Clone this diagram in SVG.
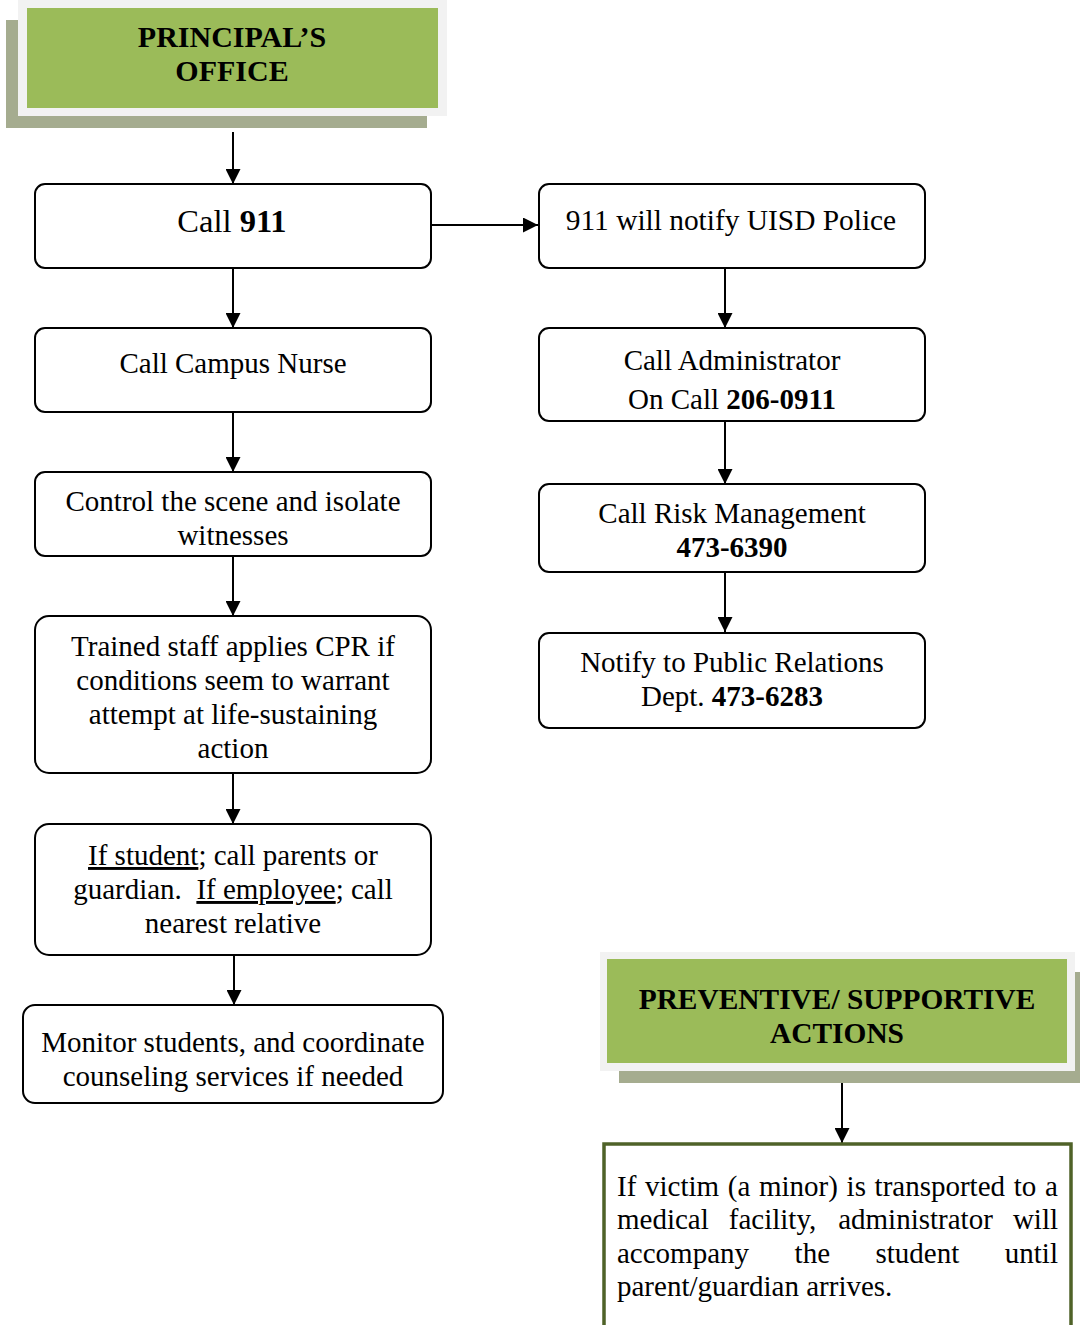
<svg xmlns="http://www.w3.org/2000/svg" width="1080" height="1325" viewBox="0 0 1080 1325">
  <defs>
    <marker id="arrow" markerUnits="userSpaceOnUse" markerWidth="15" markerHeight="15" refX="15" refY="7.5" orient="auto">
      <path d="M0,0 L15,7.5 L0,15 z" fill="#000"/>
    </marker>
    <style>
      .box { fill: #fff; stroke: #000; stroke-width: 2; }
      .shadow { fill: #a5ac8f; }
      .frame { fill: #f2f2f2; }
      .green { fill: #9bbb59; }
      .t { font-family: "Liberation Serif", "Times New Roman", serif; font-size: 29px; fill: #000; }
      .c { text-anchor: middle; }
      .b { font-weight: bold; }
      .u { text-decoration: underline; }
      .conn { stroke: #000; stroke-width: 2; fill: none; marker-end: url(#arrow); }
    </style>
  </defs>

  <rect width="1080" height="1325" fill="#fff"/>

  <!-- Connectors -->
  <g id="connectors">
    <line class="conn" x1="233" y1="132" x2="233" y2="184"/>
    <line class="conn" x1="233" y1="268" x2="233" y2="328"/>
    <line class="conn" x1="233" y1="412" x2="233" y2="472"/>
    <line class="conn" x1="233" y1="556" x2="233" y2="616"/>
    <line class="conn" x1="233" y1="773" x2="233" y2="824"/>
    <line class="conn" x1="234" y1="955" x2="234" y2="1005"/>
    <line class="conn" x1="431" y1="225" x2="538" y2="225"/>
    <line class="conn" x1="725" y1="268" x2="725" y2="328"/>
    <line class="conn" x1="725" y1="421" x2="725" y2="484"/>
    <line class="conn" x1="725" y1="572" x2="725" y2="632"/>
    <line class="conn" x1="842" y1="1083" x2="842" y2="1143"/>
  </g>

  <!-- Header: principal's office -->
  <g id="principals-office">
    <rect class="shadow" x="6" y="20" width="421" height="108"/>
    <rect class="frame" x="18" y="0" width="429" height="116"/>
    <rect class="green" x="27" y="8" width="411" height="100"/>
    <text class="t c b" x="232" y="47" style="font-size:30px">PRINCIPAL’S</text>
    <text class="t c b" x="232" y="81" style="font-size:30px">OFFICE</text>
  </g>

  <!-- Left column -->
  <g id="call-911">
    <rect class="box" x="35" y="184" width="396" height="84" rx="10"/>
    <text class="t c" x="232" y="232" style="font-size:32.5px">Call <tspan class="b">911</tspan></text>
  </g>

  <g id="call-campus-nurse">
    <rect class="box" x="35" y="328" width="396" height="84" rx="10"/>
    <text class="t c" x="233" y="373">Call Campus Nurse</text>
  </g>

  <g id="control-scene">
    <rect class="box" x="35" y="472" width="396" height="84" rx="10"/>
    <text class="t c" x="233" y="511">Control the scene and isolate</text>
    <text class="t c" x="233" y="545">witnesses</text>
  </g>

  <g id="apply-cpr">
    <rect class="box" x="35" y="616" width="396" height="157" rx="14"/>
    <text class="t c" x="233" y="656">Trained staff applies CPR if</text>
    <text class="t c" x="233" y="690">conditions seem to warrant</text>
    <text class="t c" x="233" y="724">attempt at life-sustaining</text>
    <text class="t c" x="233" y="758">action</text>
  </g>

  <g id="call-family">
    <rect class="box" x="35" y="824" width="396" height="131" rx="14"/>
    <text class="t c" x="233" y="865"><tspan class="u">If student</tspan>; call parents or</text>
    <text class="t c" x="233" y="899" xml:space="preserve">guardian.  <tspan class="u">If employee</tspan>; call</text>
    <text class="t c" x="233" y="933">nearest relative</text>
  </g>

  <g id="monitor-students">
    <rect class="box" x="23" y="1005" width="420" height="98" rx="12"/>
    <text class="t c" x="233" y="1052">Monitor students, and coordinate</text>
    <text class="t c" x="233" y="1086">counseling services if needed</text>
  </g>

  <!-- Right column -->
  <g id="notify-police">
    <rect class="box" x="539" y="184" width="386" height="84" rx="10"/>
    <text class="t c" x="731" y="230" style="font-size:29.4px">911 will notify UISD Police</text>
  </g>

  <g id="call-administrator">
    <rect class="box" x="539" y="328" width="386" height="93" rx="10"/>
    <text class="t c" x="732" y="370">Call Administrator</text>
    <text class="t c" x="732" y="409">On Call <tspan class="b">206-0911</tspan></text>
  </g>

  <g id="call-risk-management">
    <rect class="box" x="539" y="484" width="386" height="88" rx="10"/>
    <text class="t c" x="732" y="523">Call Risk Management</text>
    <text class="t c b" x="732" y="557">473-6390</text>
  </g>

  <g id="notify-public-relations">
    <rect class="box" x="539" y="633" width="386" height="95" rx="10"/>
    <text class="t c" x="732" y="672">Notify to Public Relations</text>
    <text class="t c" x="732" y="706">Dept. <tspan class="b">473-6283</tspan></text>
  </g>

  <!-- Header: preventive / supportive actions -->
  <g id="preventive-actions">
    <rect class="shadow" x="619" y="972" width="461" height="111"/>
    <rect class="frame" x="600" y="952" width="475" height="119"/>
    <rect class="green" x="607" y="959" width="460" height="104"/>
    <text class="t c b" x="837" y="1009" style="font-size:29.4px">PREVENTIVE/ SUPPORTIVE</text>
    <text class="t c b" x="837" y="1043" style="font-size:29.4px">ACTIONS</text>
  </g>

  <!-- Justified note box -->
  <g id="accompany-victim">
    <rect x="604" y="1144" width="467" height="220" fill="#fff" stroke="#4f6228" stroke-width="3.5"/>
    <text class="t" y="1196">
      <tspan x="617">If</tspan><tspan x="645">victim</tspan><tspan x="727.8">(a</tspan><tspan x="759">minor)</tspan><tspan x="846.6">is</tspan><tspan x="874.6">transported</tspan><tspan x="1013.8">to</tspan><tspan x="1045.1">a</tspan>
    </text>
    <text class="t" y="1229">
      <tspan x="617">medical</tspan><tspan x="728.8">facility,</tspan><tspan x="838.2">administrator</tspan><tspan x="1012.9">will</tspan>
    </text>
    <text class="t" y="1263">
      <tspan x="617">accompany</tspan><tspan x="794.6">the</tspan><tspan x="875.5">student</tspan><tspan x="1004.8">until</tspan>
    </text>
    <text class="t" x="617" y="1296">parent/guardian arrives.</text>
  </g>
</svg>
